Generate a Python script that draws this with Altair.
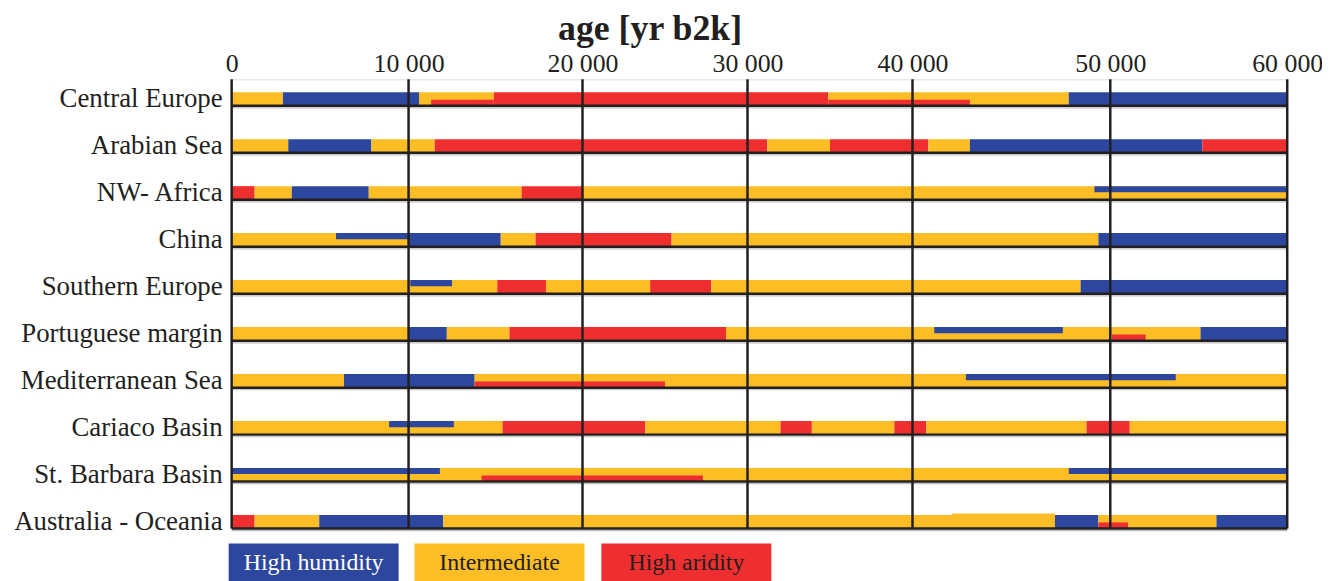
import altair as alt
import pandas as pd

# ---------------- data ----------------
regions = ["Central Europe", "Arabian Sea", "NW- Africa", "China", "Southern Europe",
           "Portuguese margin", "Mediterranean Sea", "Cariaco Basin", "St. Barbara Basin",
           "Australia - Oceania"]
states = ["High humidity", "Intermediate", "High aridity"]
colors = ["#2c479d", "#fdbe25", "#ef2f2f"]
HH, IM, HA = states

tick_values = [0, 10000, 20000, 30000, 40000, 50000, 60000]

# full-height segments: boundaries (yr b2k) and state of each interval
ce_bounds = [0, 2900, 10600, 14900, 34900, 47900, 60000]
ce_states = [IM, HH, IM, HA, IM, HH]
as_bounds = [0, 3200, 7900, 11500, 31200, 35000, 40800, 42900, 55200, 60000]
as_states = [IM, HH, IM, HA, IM, HA, IM, HH, HA]
nw_bounds = [0, 1300, 3400, 7750, 16500, 20000, 60000]
nw_states = [HA, IM, HH, IM, HA, IM]
cn_bounds = [0, 10000, 15300, 17300, 25400, 49400, 60000]
cn_states = [IM, HH, IM, HA, IM, HH]
se_bounds = [0, 15100, 17900, 24100, 27800, 48500, 60000]
se_states = [IM, HA, IM, HA, IM, HH]
pm_bounds = [0, 10000, 12200, 15800, 28700, 55100, 60000]
pm_states = [IM, HH, IM, HA, IM, HH]
ms_bounds = [0, 6350, 13800, 60000]
ms_states = [IM, HH, IM]
cb_bounds = [0, 15400, 23800, 32000, 33900, 38900, 40700, 48800, 51100, 60000]
cb_states = [IM, HA, IM, HA, IM, HA, IM, HA, IM]
sb_bounds = [0, 60000]
sb_states = [IM]
ao_bounds = [0, 1300, 4950, 12000, 47200, 49400, 56000, 60000]
ao_states = [HA, IM, HH, IM, HH, IM, HH]

bounds_list = [ce_bounds, as_bounds, nw_bounds, cn_bounds, se_bounds,
               pm_bounds, ms_bounds, cb_bounds, sb_bounds, ao_bounds]
states_list = [ce_states, as_states, nw_states, cn_states, se_states,
               pm_states, ms_states, cb_states, sb_states, ao_states]

# partial-height segments: region, start, end, state, side of the bar
ov_region = ["Central Europe", "Central Europe", "NW- Africa", "China", "Southern Europe",
             "Portuguese margin", "Portuguese margin", "Mediterranean Sea", "Mediterranean Sea",
             "Cariaco Basin", "St. Barbara Basin", "St. Barbara Basin", "St. Barbara Basin",
             "Australia - Oceania", "Australia - Oceania"]
ov_start = [11300, 34900, 49200, 5900, 10100, 41100, 50100, 13800, 42700, 8900, 0, 47900, 14200, 42000, 49400]
ov_end = [14900, 42900, 60000, 10000, 12500, 47600, 52000, 25000, 53700, 12600, 11800, 60000, 27300, 47200, 51000]
ov_state = [HA, HA, HH, HH, HH, HH, HA, HA, HH, HH, HH, HH, HA, IM, HA]
ov_side = ["bottom", "bottom", "top", "top", "top", "top", "bottom", "bottom", "top",
           "top", "top", "top", "bottom", "raised", "bottom"]

legend_labels = states

# ---------------- layout constants ----------------
BAR = 0.29     # bar height in row units
FRAC = 0.45    # partial bar fraction
INK = "#231f20"
FONT = "Liberation Serif"

rows = []
for i, (reg, b, s) in enumerate(zip(regions, bounds_list, states_list)):
    for k in range(len(s)):
        rows.append(dict(region=reg, start=b[k], end=b[k + 1], state=s[k],
                         y=i + 1 - BAR, y2=i + 1))
base_df = pd.DataFrame(rows)

orows = []
for reg, st, en, state, side in zip(ov_region, ov_start, ov_end, ov_state, ov_side):
    line = regions.index(reg) + 1
    if side == "top":
        y, y2 = line - BAR, line - BAR + FRAC * BAR
    elif side == "bottom":
        y, y2 = line - FRAC * BAR, line
    else:
        y, y2 = line - BAR - 0.03, line
    orows.append(dict(region=reg, start=st, end=en, state=state, y=y, y2=y2))
ov_df = pd.DataFrame(orows)

line_df = pd.DataFrame({"region": regions, "y": [i + 1 for i in range(len(regions))],
                        "x0": 0, "x1": 60000})
label_df = pd.DataFrame({"region": regions,
                         "y": [i + 1 - BAR / 2 for i in range(len(regions))]})
grid_df = pd.DataFrame({"age": tick_values})

xscale = alt.Scale(domain=tick_values, range=[0, 178, 353, 519, 685, 884, 1062],
                   nice=False, zero=False)
yscale = alt.Scale(domain=[0.436, 10], reverse=True, nice=False, zero=False)
cscale = alt.Scale(domain=states, range=colors)

xaxis = alt.Axis(orient="top", values=tick_values,
                 labelExpr="replace(format(datum.value, ','), ',', ' ')",
                 domain=False, ticks=False, tickSize=0, grid=False,
                 labelFlush=False, labelOverlap=False,
                 labelFont=FONT, labelFontSize=26, labelColor=INK, labelPadding=3,
                 title=None)

bars = alt.Chart(base_df).mark_rect().encode(
    x=alt.X("start:Q", scale=xscale, axis=xaxis),
    x2="end:Q",
    y=alt.Y("y:Q", scale=yscale, axis=None),
    y2="y2:Q",
    color=alt.Color("state:N", scale=cscale, legend=None),
)
overlays = alt.Chart(ov_df).mark_rect().encode(
    x=alt.X("start:Q", scale=xscale, axis=xaxis),
    x2="end:Q",
    y=alt.Y("y:Q", scale=yscale, axis=None),
    y2="y2:Q",
    color=alt.Color("state:N", scale=cscale, legend=None),
)
shadow = alt.Chart(line_df).transform_calculate(ys="datum.y + 0.045").mark_rule(
    color="#bdbdbd", strokeWidth=1.2).encode(
    x=alt.X("x0:Q", scale=xscale, axis=xaxis), x2="x1:Q",
    y=alt.Y("ys:Q", scale=yscale, axis=None),
)
hlines = alt.Chart(line_df).mark_rule(color=INK, strokeWidth=2.5).encode(
    x=alt.X("x0:Q", scale=xscale, axis=xaxis), x2="x1:Q",
    y=alt.Y("y:Q", scale=yscale, axis=None),
)
vlines = alt.Chart(grid_df).mark_rule(color=INK, strokeWidth=2.5).encode(
    x=alt.X("age:Q", scale=xscale, axis=xaxis),
)
labels = alt.Chart(label_df).mark_text(
    font=FONT, fontSize=27, color=INK, align="right", baseline="middle").encode(
    text="region:N", x=alt.value(-9),
    y=alt.Y("y:Q", scale=yscale, axis=None),
)
title = alt.Chart(pd.DataFrame({"t": ["age [yr b2k]"]})).mark_text(
    font=FONT, fontSize=36, fontWeight="bold", color=INK, align="center",
    baseline="alphabetic").encode(text="t:N", x=alt.value(421), y=alt.value(-40))

legend_x = [-3, 184, 372]
legend_text_color = ["white", INK, INK]
legend_layers = []
for lab, col, x0, tc in zip(legend_labels, colors, legend_x, legend_text_color):
    ldf = pd.DataFrame({"label": [lab]})
    legend_layers.append(alt.Chart(ldf).mark_rect(color=col).encode(
        x=alt.value(x0), x2=alt.value(x0 + 171), y=alt.value(467), y2=alt.value(505)))
    legend_layers.append(alt.Chart(ldf).mark_text(
        font=FONT, fontSize=24, color=tc, align="center", baseline="middle").encode(
        text="label:N", x=alt.value(x0 + 85.5), y=alt.value(487)))

chart = alt.layer(bars, overlays, shadow, hlines, vlines, labels, title,
                  *legend_layers).properties(
    width=1062, height=452,
    autosize=alt.AutoSizeParams(type="none"),
    padding={"left": 225, "top": 70, "right": 35, "bottom": 51},
).configure_view(stroke=None).configure(background="white")

chart.save("out.html", embed_options={"renderer": "svg", "actions": False})
